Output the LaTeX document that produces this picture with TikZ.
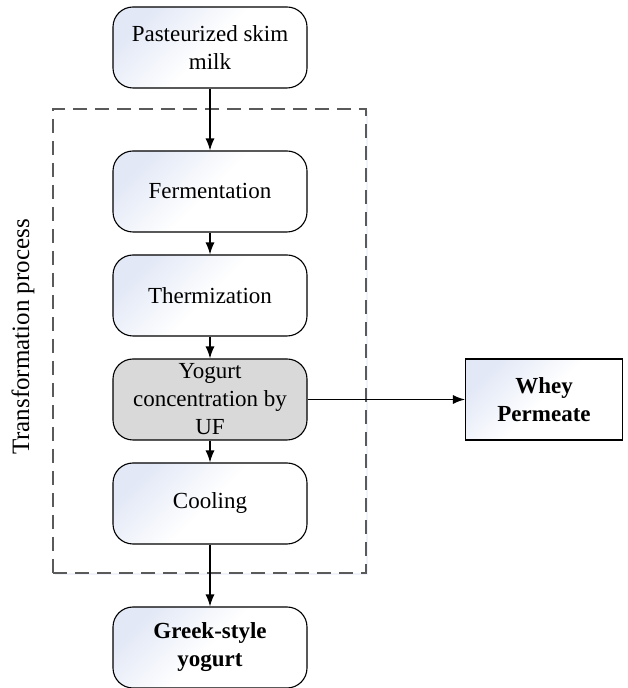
\documentclass[tikz,border=0pt]{standalone}
\usepackage{fontspec}
\setmainfont{Liberation Serif}
\usepackage{tikz}
\usetikzlibrary{positioning, arrows.meta, shadows}

\definecolor{boxblue}{RGB}{226,232,246}
\definecolor{ufgray}{RGB}{217,217,217}
\definecolor{framegray}{RGB}{90,90,90}

\tikzset{
  stage/.style={draw, rounded corners=20pt, line width=1.1pt,
    minimum width=194pt, minimum height=81pt, align=center,
    top color=boxblue, bottom color=white, middle color=white, shading angle=45,
    font=\fontsize{23}{28}\selectfont},
  ufstage/.style={stage, top color=ufgray, bottom color=ufgray, middle color=ufgray},
  outstage/.style={stage, font=\fontsize{23}{28}\selectfont\bfseries},
  byproduct/.style={stage, rounded corners=0pt, minimum width=157pt,
    font=\fontsize{23}{28}\selectfont\bfseries},
  frame/.style={draw=framegray, line width=1.3pt, dash pattern=on 14pt off 8pt,
    fill=white, minimum width=313pt, minimum height=464pt,
    drop shadow={shadow xshift=2pt, shadow yshift=-2pt, fill=boxblue}},
  flow/.style={-{Latex[length=12pt,width=9pt]}, line width=1.2pt}
}

\begin{document}
\begin{tikzpicture}[x=1pt, y=1pt, node distance=104pt, on grid]
  \useasboundingbox (0,0) rectangle (628,688);

  % transformation frame
  \node[frame] (frame) at (209.5,347) {};
  \node[rotate=90, font=\fontsize{25}{30}\selectfont] (framelabel) at (23,351) {Transformation process};

  \node[stage] (milk) at (210,640.5) {Pasteurized skim\\milk};
  \node[stage] (ferm) [below=144pt of milk] {Fermentation};
  \node[stage] (therm) [below=of ferm] {Thermization};
  \node[ufstage] (uf) [below=of therm] {Yogurt\\concentration by\\UF};
  \node[stage] (cool) [below=of uf] {Cooling};
  \node[outstage] (greek) [below=144pt of cool] {Greek-style\\yogurt};
  \node[byproduct] (whey) [right=334pt of uf] {Whey\\Permeate};

  \path[flow]
  (milk) edge (ferm)
  (ferm) edge (therm)
  (therm) edge (uf)
  (uf) edge (cool)
  (cool) edge (greek)
  (uf) edge (whey);

\end{tikzpicture}
\end{document}
